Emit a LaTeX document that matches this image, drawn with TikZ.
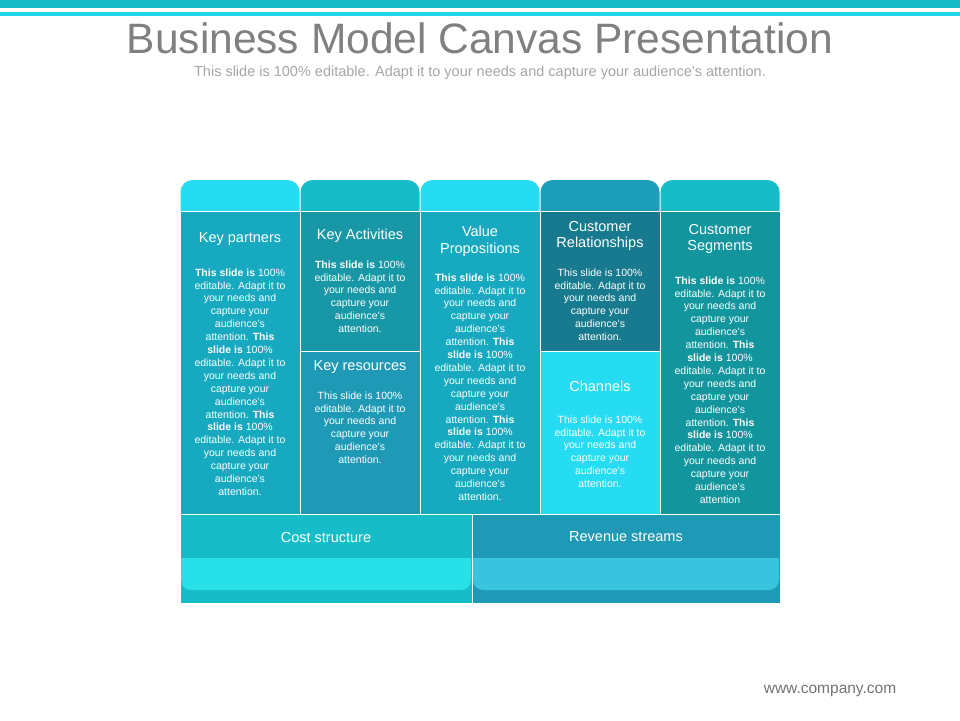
\documentclass[tikz,border=0pt]{standalone}
\usepackage{fontspec}
\setmainfont{Liberation Sans}
\begin{document}
\begin{tikzpicture}[x=1pt,y=-1pt,
  blk/.style={draw=white,line width=1pt},
  hd/.style={text=white,font=\fontsize{14.5}{16.5}\selectfont,align=center},
  bd/.style={text=white,font=\fontsize{10.5}{12.9}\selectfont,align=center}]
\definecolor{cyanL}{HTML}{25DCF2}
\definecolor{cyanM}{HTML}{17BCC9}
\definecolor{tealA}{HTML}{16A9C0}
\definecolor{tealB}{HTML}{1898A6}
\definecolor{blueB}{HTML}{1E9AB6}
\definecolor{darkC}{HTML}{177A8E}
\definecolor{capD}{HTML}{1C9DB9}
\definecolor{tealE}{HTML}{13959E}
\definecolor{bandC}{HTML}{28E0E8}
\definecolor{bandR}{HTML}{38C3DE}
\useasboundingbox (0,0) rectangle (960,720);
\fill[white] (0,0) rectangle (960,720);
\fill[cyanM] (0,0) rectangle (960,8);
\fill[cyanL!80!cyanM] (0,12) rectangle (960,16);
\node[text=black!50,font=\fontsize{42.5}{46}\selectfont] (title) at (480,38) {Business Model Canvas Presentation};
\node[text=black!35,font=\fontsize{14.5}{17}\selectfont] (sub) at (480,73) {This slide is 100\% editable. Adapt it to your needs and capture your audience's attention.};
% caps
\foreach \x/\c in {180/cyanL,300/cyanM,420/cyanL,540/capD,660/cyanM}{
  \fill[\c,rounded corners=12pt] (\x+0.5,180) rectangle (\x+119.5,222);}
% bodies
\filldraw[blk,fill=tealA] (180,211) rectangle (300,514);
\filldraw[blk,fill=tealB] (300,211) rectangle (420,351);
\filldraw[blk,fill=blueB] (300,351) rectangle (420,514);
\filldraw[blk,fill=tealA] (420,211) rectangle (540,514);
\filldraw[blk,fill=darkC] (540,211) rectangle (660,351);
\filldraw[blk,fill=cyanL] (540,351) rectangle (660,514);
\filldraw[blk,fill=tealE] (660,211) rectangle (780,514);
\filldraw[blk,fill=cyanM] (180,514) rectangle (472,603);
\filldraw[blk,fill=blueB] (472,514) rectangle (780,603);
\fill[bandC,rounded corners=10pt] (181,545) -- (471,545) -- (471,590) -- (181,590) -- cycle;
\fill[cyanM] (181,545) rectangle (471,558);
\fill[bandR,rounded corners=10pt] (473,545) -- (779,545) -- (779,590) -- (473,590) -- cycle;
\fill[blueB] (473,545) rectangle (779,558);
\draw[white,line width=1pt] (472,514) -- (472,603);
% texts
\node[hd] (kp) at (240,239) {Key partners};
\node[bd,anchor=north] (kpt) at (240,265) {\textbf{This slide is} 100\%\\editable. Adapt it to\\your needs and\\capture your\\audience's\\attention. \textbf{This}\\\textbf{slide is} 100\%\\editable. Adapt it to\\your needs and\\capture your\\audience's\\attention. \textbf{This}\\\textbf{slide is} 100\%\\editable. Adapt it to\\your needs and\\capture your\\audience's\\attention.};
\node[hd] (ka) at (360,236) {Key Activities};
\node[bd,anchor=north] (kat) at (360,257) {\textbf{This slide is} 100\%\\editable. Adapt it to\\your needs and\\capture your\\audience's\\attention.};
\node[hd] (kr) at (360,367) {Key resources};
\node[bd,anchor=north] (krt) at (360,388) {This slide is 100\%\\editable. Adapt it to\\your needs and\\capture your\\audience's\\attention.};
\node[hd] (vp) at (480,241) {Value\\Propositions};
\node[bd,anchor=north] (vpt) at (480,270) {\textbf{This slide is} 100\%\\editable. Adapt it to\\your needs and\\capture your\\audience's\\attention. \textbf{This}\\\textbf{slide is} 100\%\\editable. Adapt it to\\your needs and\\capture your\\audience's\\attention. \textbf{This}\\\textbf{slide is} 100\%\\editable. Adapt it to\\your needs and\\capture your\\audience's\\attention.};
\node[hd] (cr) at (600,236) {Customer\\Relationships};
\node[bd,anchor=north] (crt) at (600,265) {This slide is 100\%\\editable. Adapt it to\\your needs and\\capture your\\audience's\\attention.};
\node[hd] (ch) at (600,386) {Channels};
\node[bd,anchor=north] (cht) at (600,412) {This slide is 100\%\\editable. Adapt it to\\your needs and\\capture your\\audience's\\attention.};
\node[hd] (cs) at (720,239) {Customer\\Segments};
\node[bd,anchor=north] (cst) at (720,273) {\textbf{This slide is} 100\%\\editable. Adapt it to\\your needs and\\capture your\\audience's\\attention. \textbf{This}\\\textbf{slide is} 100\%\\editable. Adapt it to\\your needs and\\capture your\\audience's\\attention. \textbf{This}\\\textbf{slide is} 100\%\\editable. Adapt it to\\your needs and\\capture your\\audience's\\attention};
\node[hd] (cost) at (326,537) {Cost structure};
\node[hd] (rev) at (626,537) {Revenue streams};
\node[text=black!55,font=\fontsize{15.5}{17}\selectfont] (web) at (830,691) {www.company.com};
\end{tikzpicture}
\end{document}
